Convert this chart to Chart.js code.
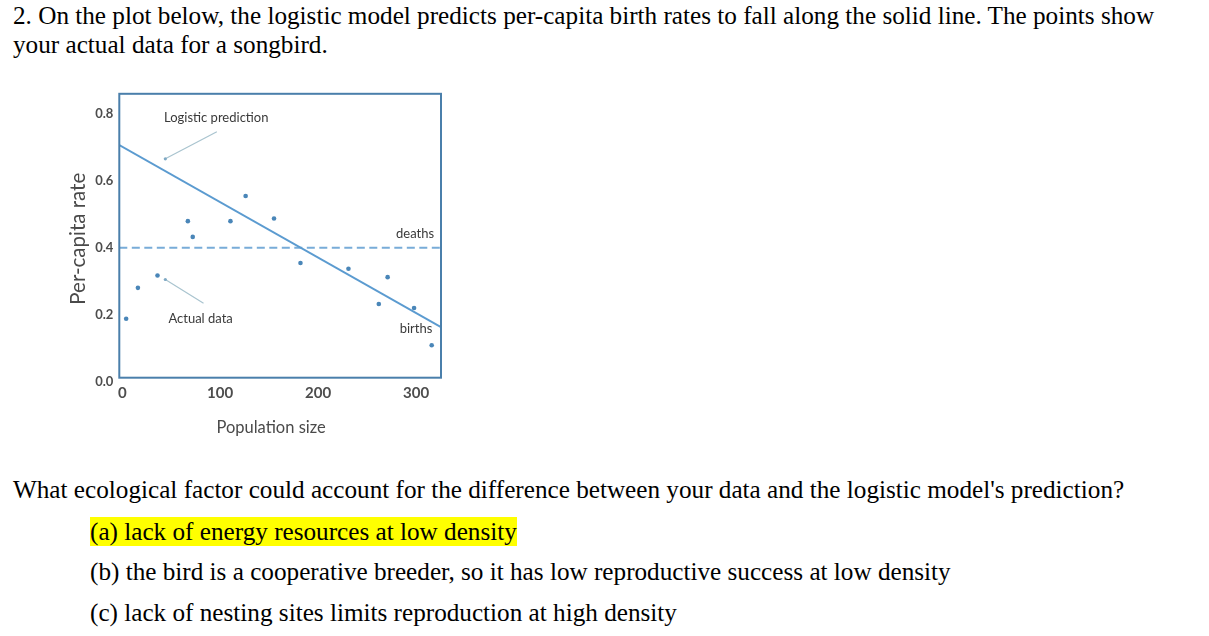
<!DOCTYPE html>
<html>
<head>
<meta charset="utf-8">
<script src="https://cdn.jsdelivr.net/npm/chart.js@4"></script>
<style>
  html, body { margin: 0; padding: 0; background: #fff; width: 1209px; height: 636px; overflow: hidden; }
  .t { position: absolute; left: 13px; font-family: "Liberation Serif", "Times New Roman", serif; font-size: 25.2px; line-height: 28.3px; color: #000; white-space: nowrap; }
  .opt { left: 90px; }
  .hl { background: #ffff00; padding: 1px 0; }
  #wrap { position: absolute; left: 60px; top: 80px; width: 390px; height: 370px; }
</style>
</head>
<body>
<div class="t" style="top:2.2px">2. On the plot below, the logistic model predicts per-capita birth rates to fall along the solid line. The points show</div>
<div class="t" style="top:30.5px">your actual data for a songbird.</div>
<div id="wrap"><canvas id="c"></canvas></div>
<div class="t" style="top:475.7px">What ecological factor could account for the difference between your data and the logistic model's prediction?</div>
<div class="t opt" style="top:518.4px"><span class="hl">(a) lack of energy resources at low density</span></div>
<div class="t opt" style="top:558px">(b) the bird is a cooperative breeder, so it has low reproductive success at low density</div>
<div class="t opt" style="top:599px">(c) lack of nesting sites limits reproduction at high density</div>
<script>
// ---- data ----
const popSize   = [4, 16, 36, 67, 72, 110.5, 126, 155, 182, 231, 262, 271, 298, 316];
const birthRate = [0.188, 0.280, 0.317, 0.479, 0.432, 0.479, 0.554, 0.487, 0.354, 0.337, 0.232, 0.312, 0.220, 0.109];
const predictionX = [-3, 325.5];
const predictionY = [0.706, 0.163];
const deathX = [-3, 325.5];
const deathY = [0.4, 0.4];
const xTicks = [0, 100, 200, 300];
const yTicks = [0, 0.2, 0.4, 0.6, 0.8];
const xTitle = "Population size";
const yTitle = "Per-capita rate";

// annotation labels (data coordinates)
const labels = [
  { text: "Logistic prediction", x: 96, y: 0.787 },
  { text: "Actual data", x: 80, y: 0.189 },
  { text: "deaths", x: 299, y: 0.441 },
  { text: "births", x: 300, y: 0.159 }
];
const arrows = [
  { from: [96.6, 0.746], to: [44, 0.665] },
  { from: [83, 0.234], to: [44, 0.305] }
];

const toXY = (xs, ys) => xs.map((x, i) => ({ x: x, y: ys[i] }));

const FONT = "Lato, 'Open Sans', sans-serif";

const frame = {
  id: 'frame',
  afterDatasetsDraw(chart) {
    const { ctx, chartArea: a, scales } = chart;
    ctx.save();
    // arrows
    ctx.strokeStyle = '#a9c4cf';
    ctx.lineWidth = 1.2;
    arrows.forEach(ar => {
      const x1 = scales.x.getPixelForValue(ar.from[0]), y1 = scales.y.getPixelForValue(ar.from[1]);
      const x2 = scales.x.getPixelForValue(ar.to[0]), y2 = scales.y.getPixelForValue(ar.to[1]);
      ctx.beginPath(); ctx.moveTo(x1, y1); ctx.lineTo(x2, y2); ctx.stroke();
      ctx.fillStyle = '#7fa9c4';
      ctx.beginPath(); ctx.arc(x2, y2, 1.6, 0, Math.PI * 2); ctx.fill();
    });
    // labels
    ctx.fillStyle = '#3a3a3a';
    ctx.font = "13px " + FONT;
    ctx.textAlign = 'center';
    ctx.textBaseline = 'middle';
    labels.forEach(l => {
      ctx.fillText(l.text, scales.x.getPixelForValue(l.x), scales.y.getPixelForValue(l.y));
    });
    // axis titles
    ctx.fillStyle = '#4a4a4a';
    ctx.font = "16.5px " + FONT;
    ctx.fillText(xTitle, scales.x.getPixelForValue(152), a.bottom + 50);
    ctx.save();
    ctx.translate(a.left - 41, (a.top + a.bottom) / 2 + 3);
    ctx.rotate(-Math.PI / 2);
    ctx.font = "20.5px " + FONT;
    ctx.fillText(yTitle, 0, 0);
    ctx.restore();
    // frame
    ctx.strokeStyle = '#4a7fab';
    ctx.lineWidth = 2;
    ctx.strokeRect(a.left, a.top, a.right - a.left, a.bottom - a.top);
    ctx.restore();
  }
};

new Chart(document.getElementById('c'), {
  type: 'scatter',
  data: {
    datasets: [
      {
        label: 'Actual data',
        data: toXY(popSize, birthRate),
        backgroundColor: '#4a86b8',
        borderColor: '#4a86b8',
        pointRadius: 2.3,
        pointBorderWidth: 0
      },
      {
        label: 'Logistic prediction (births)',
        data: toXY(predictionX, predictionY),
        showLine: true,
        borderColor: '#5b9bd0',
        borderWidth: 2,
        pointRadius: 0
      },
      {
        label: 'deaths',
        data: toXY(deathX, deathY),
        showLine: true,
        borderColor: '#78acd8',
        borderWidth: 2,
        borderDash: [8, 4.5],
        pointRadius: 0
      }
    ]
  },
  options: {
    responsive: true,
    maintainAspectRatio: false,
    animation: false,
    devicePixelRatio: 1,
    layout: { padding: { left: 0, top: 11.7, right: 9, bottom: 0 } },
    plugins: { legend: { display: false }, tooltip: { enabled: false } },
    scales: {
      x: {
        type: 'linear',
        min: -3, max: 325.5,
        afterBuildTicks: s => { s.ticks = xTicks.map(v => ({ value: v })); },
        afterFit: s => { s.height = 72.3; },
        grid: { display: false, drawTicks: false },
        border: { display: false },
        ticks: { padding: 6, color: '#4d4d4d', font: { family: FONT, size: 15, weight: 'bold' }, callback: v => String(v) },
        title: { display: false }
      },
      y: {
        type: 'linear',
        min: 0.012, max: 0.859,
        afterBuildTicks: s => { s.ticks = yTicks.map(v => ({ value: v })); },
        afterFit: s => { s.width = 59.3; },
        grid: { display: false, drawTicks: false },
        border: { display: false },
        ticks: { padding: 6, color: '#4d4d4d', font: { family: FONT, size: 13, weight: 'bold' }, callback: v => Number(v).toFixed(1) },
        title: { display: false }
      }
    }
  },
  plugins: [frame]
});
</script>
</body>
</html>
